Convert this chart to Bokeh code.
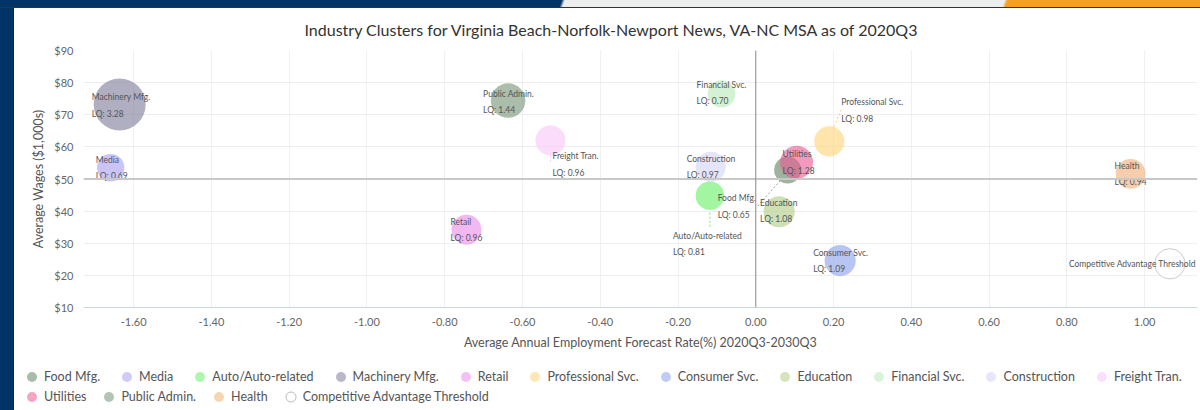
from bokeh.plotting import figure
from bokeh.models import (ColumnDataSource, Legend, LegendItem, Span, FixedTicker,
                          NumeralTickFormatter, PrintfTickFormatter, Range1d, Div)
from bokeh.layouts import row, column
from bokeh.core.properties import value
from bokeh.embed import file_html
from bokeh.resources import INLINE

# ---------------- data ----------------
names = ["Food Mfg.", "Media", "Auto/Auto-related", "Machinery Mfg.", "Retail",
         "Professional Svc.", "Consumer Svc.", "Education", "Financial Svc.",
         "Construction", "Freight Tran.", "Utilities", "Public Admin.", "Health",
         "Competitive Advantage Threshold"]
growth = [0.082, -1.659, -0.118, -1.636, -0.744, 0.189, 0.217, 0.060, -0.088,
          -0.116, -0.528, 0.105, -0.637, 0.964, 1.065]
wages = [52.8, 53.5, 44.8, 73.2, 34.2, 61.7, 24.6, 39.8, 76.5, 53.8, 62.0, 55.2,
         74.4, 51.6, 23.6]
lq = [0.65, 0.69, 0.81, 3.28, 0.96, 0.98, 1.09, 1.08, 0.70, 0.97, 0.96, 1.28,
      1.44, 0.94, 1.00]
x_ticks = [-1.6, -1.4, -1.2, -1.0, -0.8, -0.6, -0.4, -0.2, 0.0, 0.2, 0.4, 0.6, 0.8, 1.0]
y_ticks = [10, 20, 30, 40, 50, 60, 70, 80, 90]
title_text = "Industry Clusters for Virginia Beach-Norfolk-Newport News, VA-NC MSA as of 2020Q3"
x_title = "Average Annual Employment Forecast Rate(%) 2020Q3-2030Q3"
y_title = "Average Wages ($1,000s)"

# ---------------- styles ----------------
colors = ["#628362", "#a9a2f1", "#69f169", "#7e7e9b", "#ea8dea", "#ffd477",
          "#8da2ea", "#b0cd86", "#b8eab8", "#d4d4f8", "#f8c6f8", "#ea5b94",
          "#779477", "#f1b077", "#ffffff"]
ALPHA = 0.62
# label offsets in px (text left, first line centre) relative to bubble centre
label_dx = [-70, -15, -37, -28, -16, 12, -27, -19, -25, -24, 2, -14, -25, -16, -101]
label_dy = [28, -8, 40, -7, -8, -39, -8, -9, -9, -8, 16, -8, -7, -8, 0]
# connectors: (series index, start px offset, end px offset)
connectors = [(2, (0, 17), (0, 32)), (0, (-30, 36), (-6, 9)),
              (5, (5, -15), (12, -32)), (10, (0, 15), (0, 22))]

FONT = "Lato"
X0, X1, Y0, Y1 = -1.729, 1.136, 10, 90
W, H = 1186, 347
BL, BR, BT, BB = 69, 3, 42, 48
FW, FH = W - BL - BR, H - BT - BB
sx = FW / (X1 - X0)
sy = FH / (Y1 - Y0)

p = figure(width=W, height=H, output_backend="svg", toolbar_location=None,
           x_range=Range1d(X0, X1), y_range=Range1d(Y0, Y1),
           min_border_left=BL, min_border_right=BR, min_border_top=BT,
           min_border_bottom=BB, margin=0)
p.frame_align = False
p.outline_line_color = None
p.background_fill_color = "white"
p.border_fill_color = "white"

p.title.text = title_text
p.title.align = "left"
p.title.offset = 221
p.title.text_font = FONT
p.title.text_font_size = "16px"
p.title.text_font_style = "normal"
p.title.text_color = "#333333"
p.title.vertical_align = "top"
p.title.standoff = 20

# axes
p.xaxis.ticker = FixedTicker(ticks=x_ticks)
p.xaxis.formatter = NumeralTickFormatter(format="0.00")
p.yaxis.ticker = FixedTicker(ticks=y_ticks)
p.yaxis.formatter = PrintfTickFormatter(format="$%d")
for ax in (p.xaxis[0], p.yaxis[0]):
    ax.major_tick_line_color = None
    ax.minor_tick_line_color = None
    ax.major_label_text_font = FONT
    ax.major_label_text_font_size = "11px"
    ax.major_label_text_color = "#666666"
    ax.axis_label_text_font = FONT
    ax.axis_label_text_font_size = "12.5px"
    ax.axis_label_text_font_style = "normal"
    ax.axis_label_text_color = "#555555"
p.xaxis.major_label_standoff = 4
p.yaxis.major_label_standoff = 4
p.xaxis.axis_line_color = "#ccd6eb"
p.yaxis.axis_line_color = None
p.xaxis.axis_label = x_title
p.yaxis.axis_label = y_title
p.xaxis.axis_label_standoff = 6
p.yaxis.axis_label_standoff = 5
p.xgrid.ticker = FixedTicker(ticks=x_ticks)
p.ygrid.ticker = FixedTicker(ticks=y_ticks)
p.xgrid.grid_line_color = "#eef0f3"
p.ygrid.grid_line_color = "#eeeeee"

p.add_layout(Span(location=50, dimension="width", line_color="#c8c8c8", line_width=2))
p.add_layout(Span(location=0, dimension="height", line_color="#8c8c8c", line_width=1))

# connectors
for idx, a, b in connectors:
    col = colors[idx] if idx != 0 else "#9aa59a"
    p.segment(x0=[growth[idx] + a[0] / sx], y0=[wages[idx] - a[1] / sy],
              x1=[growth[idx] + b[0] / sx], y1=[wages[idx] - b[1] / sy],
              line_color=col, line_width=1, line_dash="2 2")

# bubbles
zmin, zmax = min(lq[:-1]), max(lq[:-1])
DMIN, DMAX = 27, 52
for i, n in enumerate(names):
    d = DMIN + (DMAX - DMIN) * (lq[i] - zmin) / (zmax - zmin)
    src = ColumnDataSource(dict(x=[growth[i]], y=[wages[i]], s=[d]))
    if i == len(names) - 1:
        p.scatter("x", "y", size="s", source=src, marker="circle",
                  fill_color="white", fill_alpha=1, line_color="#cccccc", line_width=1)
    else:
        p.scatter("x", "y", size="s", source=src, marker="circle",
                  fill_color=colors[i], fill_alpha=ALPHA, line_color=None)

# data labels
lab_src = ColumnDataSource(dict(x=growth, y=wages, t=names, dx=label_dx, dy=label_dy))
p.text("x", "y", text="t", x_offset="dx", y_offset="dy", source=lab_src,
       text_font=value(FONT), text_font_size="8.5px", text_color="#555555",
       text_align="left", text_baseline="middle")
lq_src = ColumnDataSource(dict(x=growth[:-1], y=wages[:-1],
                               t=[f"LQ: {v:.2f}" for v in lq[:-1]],
                               dx=label_dx[:-1], dy=[d + 16.5 for d in label_dy[:-1]]))
p.text("x", "y", text="t", x_offset="dx", y_offset="dy", source=lq_src,
       text_font=value(FONT), text_font_size="8.5px", text_color="#555555",
       text_align="left", text_baseline="middle")

# ---------------- legend strip ----------------
LH = 55
lf = figure(width=W, height=LH, output_backend="svg", toolbar_location=None,
            x_range=Range1d(0, 1), y_range=Range1d(0, 1),
            x_axis_type=None, y_axis_type=None, min_border=0, margin=0)
lf.frame_align = False
lf.outline_line_color = None
lf.border_fill_color = "white"
lf.background_fill_color = "white"
leg_r = []
for i, n in enumerate(names):
    src = ColumnDataSource(dict(x=[-5], y=[-5]))
    if i == len(names) - 1:
        r = lf.scatter("x", "y", source=src, marker="circle", fill_color="white",
                       line_color="#bbbbbb", line_width=1)
    else:
        r = lf.scatter("x", "y", source=src, marker="circle", fill_color=colors[i],
                       fill_alpha=0.55, line_color=None)
    leg_r.append(r)


def make_legend(idxs, loc, spacing):
    lg = Legend(items=[LegendItem(label=names[i], renderers=[leg_r[i]]) for i in idxs],
                location=loc, orientation="horizontal")
    lg.glyph_width = 25
    lg.glyph_height = 25
    lg.label_height = 14
    lg.label_standoff = 0
    lg.spacing = spacing
    lg.padding = 0
    lg.margin = 0
    lg.border_line_color = None
    lg.background_fill_alpha = 0
    lg.label_text_font = FONT
    lg.label_text_font_size = "12.5px"
    lg.label_text_color = "#555555"
    return lg


lf.add_layout(make_legend(list(range(11)), (5, 21.5), 14))
lf.add_layout(make_legend([11, 12, 13, 14], (5, 1.5), 10))

# ---------------- page chrome ----------------
top = Div(text="", width=1200, height=8, margin=0, styles={
    "background": "linear-gradient(110deg, #003466 0px, #003466 528px, #eceeee 531px, "
                  "#eceeee 944px, #f8a01c 947px)",
    "border-bottom": "1px solid #333333", "box-sizing": "border-box"})
left = Div(text="", width=14, height=402, margin=0, styles={
    "background-color": "#003466", "border-right": "1px solid #222222",
    "box-sizing": "border-box"})

page = column(top, row(left, column(p, lf, margin=0), margin=0), margin=0)

open("out.html", "w").write(file_html(page, INLINE))
